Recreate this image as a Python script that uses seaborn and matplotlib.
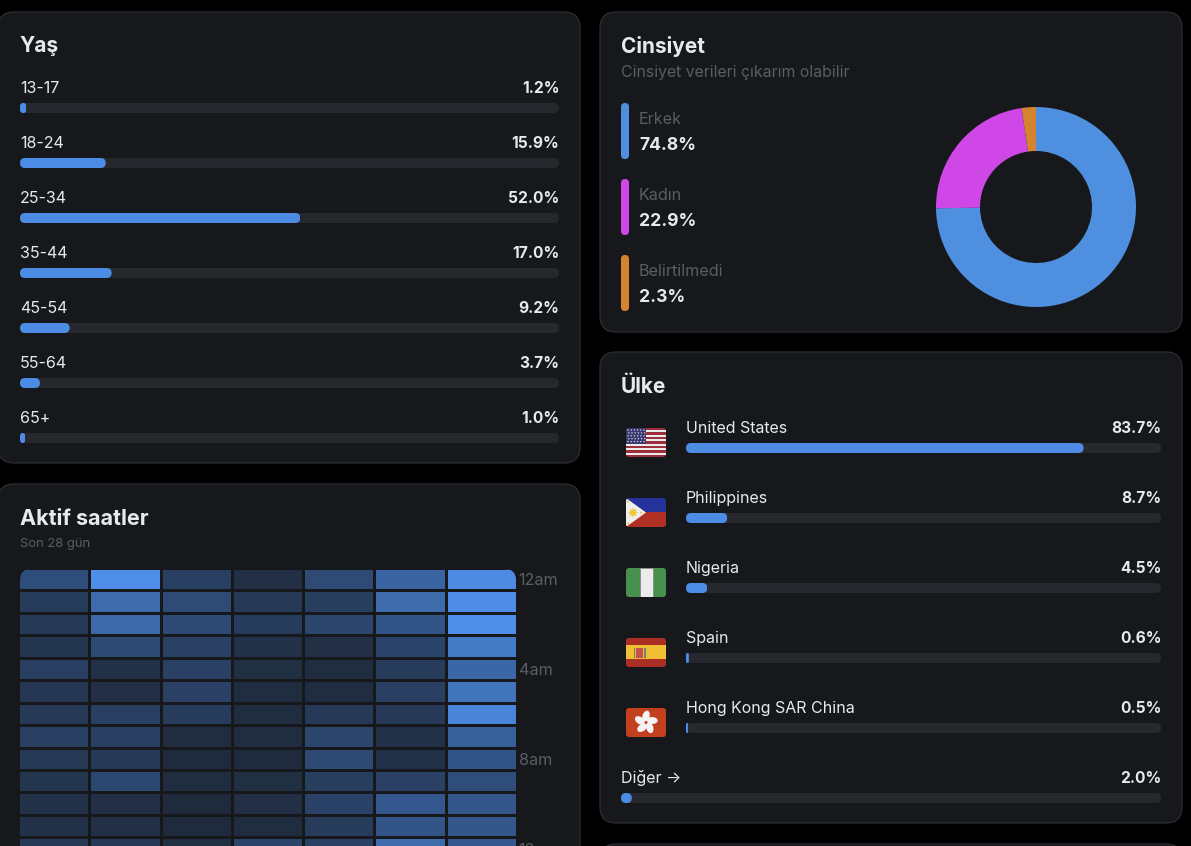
import matplotlib
matplotlib.use("Agg")
import matplotlib.pyplot as plt
import numpy as np
import seaborn as sns
from matplotlib.colors import LinearSegmentedColormap
from matplotlib.patches import Circle, Ellipse, FancyBboxPatch, Polygon, Rectangle
from matplotlib.transforms import IdentityTransform

W, H = 1191, 846

BG = "#000000"
CARD = "#16181b"
EDGE = "#2b2d31"
TRACK = "#26282d"
BLUE = "#4c8ce4"
TEXT = "#e7e9ea"
MUTED = "#5a5d62"

age_groups = ["13-17", "18-24", "25-34", "35-44", "45-54", "55-64", "65+"]
age_pct = [1.2, 15.9, 52.0, 17.0, 9.2, 3.7, 1.0]

gender_labels = ["Erkek", "Kadın", "Belirtilmedi"]
gender_pct = [74.8, 22.9, 2.3]
gender_colors = ["#4f8fdf", "#cf47e6", "#d4842e"]

countries = ["United States", "Philippines", "Nigeria", "Spain", "Hong Kong SAR China"]
country_pct = [83.7, 8.7, 4.5, 0.6, 0.5]
other_label = "Diğer →"
other_pct = [2.0]

hour_labels = ["12am", "4am", "8am", "12pm"]
# relative activity per hour row, seven day columns
activity = [
    [30, 100, 18, 5, 28, 55, 96],
    [15, 62, 28, 14, 17, 62, 98],
    [14, 60, 27, 16, 24, 38, 100],
    [10, 26, 20, 7, 5, 22, 78],
    [18, 6, 20, 4, 2, 15, 58],
    [11, 5, 20, 3, 3, 19, 72],
    [13, 18, 16, 2, 14, 14, 90],
    [19, 18, 3, 3, 24, 6, 50],
    [12, 13, 1, 1, 26, 6, 38],
    [9, 25, 3, 4, 17, 20, 30],
    [7, 5, 1, 5, 21, 42, 40],
    [6, 5, 1, 3, 15, 38, 40],
    [12, 14, 4, 22, 20, 62, 42],
]

sns.set_theme(style="dark", rc={"figure.facecolor": BG, "savefig.facecolor": BG})
plt.rcParams["font.family"] = ["Inter", "DejaVu Sans"]

fig = plt.figure(figsize=(W / 100, H / 100), dpi=100)

page = fig.add_axes([0, 0, 1, 1])
page.set_xlim(0, W)
page.set_ylim(H, 0)
page.axis("off")


def px_axes(x0, y0, x1, y1):
    ax = fig.add_axes([x0 / W, 1 - y1 / H, (x1 - x0) / W, (y1 - y0) / H])
    ax.patch.set_visible(False)
    return ax


def label(x, y, s, size=11.5, color=TEXT, weight="normal", ha="left"):
    page.text(x, y, s, fontsize=size, color=color, fontweight=weight, ha=ha, va="baseline")


def card(x0, y0, x1, y1):
    page.add_patch(FancyBboxPatch((x0, y0), x1 - x0, y1 - y0,
                                  boxstyle="round,pad=0,rounding_size=16",
                                  fc=CARD, ec=EDGE, lw=0.9))


def round_bars(ax):
    for bar in ax.patches:
        box = bar.get_window_extent()
        r = min(5, box.width / 2, box.height / 2)
        clip = FancyBboxPatch((box.x0, box.y0), box.width, box.height,
                              boxstyle=f"round,pad=0,rounding_size={r}",
                              transform=IdentityTransform())
        bar.set_clip_path(clip)


def bar_rows(x0, x1, first_y, pitch, names, values):
    # one row per category, every track spans the full 0-100 scale
    top = first_y - pitch / 2
    ax = px_axes(x0, top, x1, top + pitch * len(names))
    thick = 10 / pitch
    sns.barplot(x=[100] * len(names), y=names, color=TRACK, saturation=1,
                width=thick, orient="h", linewidth=0, ax=ax)
    sns.barplot(x=values, y=names, color=BLUE, saturation=1,
                width=thick, orient="h", linewidth=0, ax=ax)
    ax.set_xlim(0, 100)
    ax.set_ylim(len(names) - 0.5, -0.5)
    ax.axis("off")
    round_bars(ax)
    return ax


def add_flag(y, parts):
    clip = FancyBboxPatch((626, y), 40, 29, boxstyle="round,pad=0,rounding_size=3",
                          transform=page.transData)
    for p in parts:
        page.add_patch(p)
        p.set_clip_path(clip)


def flag_us(y):
    parts = []
    for i in range(13):
        parts.append(Rectangle((626, y + i * 29 / 13), 40, 29 / 13 + 0.1, lw=0,
                               fc="#9c2f3a" if i % 2 == 0 else "#ececec"))
    parts.append(Rectangle((626, y), 20, 15.6, fc="#38386e", lw=0))
    for r in range(5):
        for c in range(6):
            parts.append(Circle((628 + c * 3.2 + (r % 2) * 0.8, y + 2 + r * 2.9), 0.7,
                                fc="#d8d8e4", lw=0))
    add_flag(y, parts)


def flag_ph(y):
    parts = [
        Rectangle((626, y), 40, 14.5, fc="#24329a", lw=0),
        Rectangle((626, y + 14.5), 40, 14.5, fc="#b03026", lw=0),
        Polygon([(626, y), (646, y + 14.5), (626, y + 29)], fc="#efefef", lw=0),
        Circle((633, y + 14.5), 3, fc="#f0c83c", lw=0),
    ]
    for a in np.radians(np.arange(8) * 45):
        parts.append(Polygon([(633 + 2.5 * np.cos(a + 0.4), y + 14.5 + 2.5 * np.sin(a + 0.4)),
                              (633 + 5.5 * np.cos(a), y + 14.5 + 5.5 * np.sin(a)),
                              (633 + 2.5 * np.cos(a - 0.4), y + 14.5 + 2.5 * np.sin(a - 0.4))],
                             fc="#f0c83c", lw=0))
    for sx, sy in [(628, y + 3.5), (628, y + 25.5), (641, y + 14.5)]:
        parts.append(Circle((sx, sy), 1.1, fc="#f0c83c", lw=0))
    add_flag(y, parts)


def flag_ng(y):
    parts = [
        Rectangle((626, y), 40, 29, fc="#47904e", lw=0),
        Rectangle((639.5, y), 13, 29, fc="#ececec", ec="#8a8a8a", lw=0.6),
    ]
    add_flag(y, parts)


def flag_es(y):
    parts = [
        Rectangle((626, y), 40, 29, fc="#ab2f24", lw=0),
        Rectangle((626, y + 7.5), 40, 14, fc="#efbf36", lw=0),
        Rectangle((636, y + 10), 7, 10, fc="#c9504a", lw=0),
        Rectangle((633.5, y + 10), 1.4, 10, fc="#7d7d70", lw=0),
        Rectangle((644.2, y + 10), 1.4, 10, fc="#7d7d70", lw=0),
    ]
    add_flag(y, parts)


def flag_hk(y):
    cx, cy = 646, y + 14.5
    parts = [Rectangle((626, y), 40, 29, fc="#c3401f", lw=0)]
    for a in np.arange(5) * 72 + 90:
        dx, dy = 6.5 * np.cos(np.radians(a)), -6.5 * np.sin(np.radians(a))
        parts.append(Ellipse((cx + dx, cy + dy), 11, 7, angle=-a + 20, fc="#f4f4f4", lw=0))
    add_flag(y, parts)


# cards
card(-2, 12, 580, 463)
card(-2, 484, 580, 900)
card(600, 12, 1182, 332)
card(600, 352, 1182, 823)
card(600, 844, 1182, 900)

# age block
label(19.5, 52.5, "Yaş", size=15, weight="bold")
bar_rows(20, 559, 108, 55, age_groups, age_pct)
for i, (name, val) in enumerate(zip(age_groups, age_pct)):
    label(20, 93 + 55 * i, name)
    label(559.5, 93 + 55 * i, f"{val:.1f}%", weight="bold", ha="right", size=11.2)

# gender block
label(621, 53, "Cinsiyet", size=15, weight="bold")
label(621, 77.5, "Cinsiyet verileri çıkarım olabilir", size=11.4, color=MUTED)
for i, (name, val, col) in enumerate(zip(gender_labels, gender_pct, gender_colors)):
    y = 103 + 76 * i
    page.add_patch(FancyBboxPatch((621, y), 8, 56, boxstyle="round,pad=0,rounding_size=4",
                                  fc=col, lw=0))
    label(639, y + 21.5, name, size=11.6, color=MUTED)
    label(639, y + 47, f"{val:.1f}%", size=12.6, weight="bold")

pie_ax = px_axes(936, 107, 1136, 307)
pie_ax.pie(gender_pct, colors=gender_colors, startangle=90, counterclock=False,
           wedgeprops={"width": 0.44, "linewidth": 0})
pie_ax.set_xlim(-1, 1)
pie_ax.set_ylim(-1, 1)

# country block
label(621, 393, "Ülke", size=15, weight="bold")
bar_rows(686, 1161, 448, 70, countries, country_pct)
for i, (name, val) in enumerate(zip(countries, country_pct)):
    label(686, 433 + 70 * i, name)
    label(1161.5, 433 + 70 * i, f"{val:.1f}%", weight="bold", ha="right", size=11.2)
bar_rows(621, 1161, 798, 70, [other_label], other_pct)
label(621, 783, other_label)
label(1161.5, 783, f"{other_pct[0]:.1f}%", weight="bold", ha="right", size=11.2)

flag_us(428)
flag_ph(498)
flag_ng(568)
flag_es(638)
flag_hk(708)

# active hours block
label(20, 525, "Aktif saatler", size=15.5, weight="bold")
label(20, 547, "Son 28 gün", size=9.4, color=MUTED)

heat_cmap = LinearSegmentedColormap.from_list(
    "activity", [(0, "#1f2a3b"), (0.3, "#2f4d7a"), (1, "#4f8ee8")])
heat_ax = px_axes(18.2, 567.9, 516.9, 567.9 + 22.45 * len(activity))
sns.heatmap(np.array(activity), cmap=heat_cmap, vmin=0, vmax=100, cbar=False,
            linewidths=1.8, linecolor=CARD, ax=heat_ax)
heat_clip = FancyBboxPatch((19.5, 569.2), 496.5, 400, boxstyle="round,pad=0,rounding_size=11",
                           transform=page.transData)
heat_ax.collections[0].set_clip_path(heat_clip)
heat_ax.set_xticks([])
heat_ax.yaxis.tick_right()
heat_ax.set_yticks(np.arange(len(hour_labels)) * 4 + 0.5, hour_labels, rotation=0,
                   color=MUTED, fontsize=11.7)
heat_ax.tick_params(axis="y", length=0, pad=1.2)
for side in heat_ax.spines.values():
    side.set_visible(False)

fig.savefig("out.png", dpi=100)
